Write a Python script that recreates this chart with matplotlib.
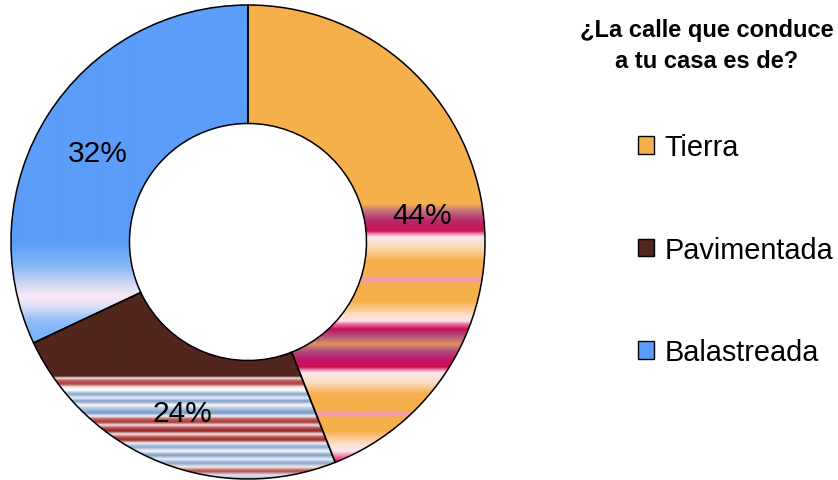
import matplotlib
matplotlib.use("Agg")
import numpy as np
import matplotlib.pyplot as plt
from matplotlib.patches import Patch, Wedge
from matplotlib.colors import to_rgb

categories = ["Tierra", "Pavimentada", "Balastreada"]
values = [44, 24, 32]
colors = ["#F6B04B", "#52261D", "#5B9DF8"]
title = "¿La calle que conduce\na tu casa es de?"

# Rendering texture (horizontal colour bands) of each slice, by pixel row
bands = {
    "Tierra": [(0, '#F6B04B'), (205, '#F6B04B'), (212, '#C07080'), (222, '#B8286A'),
               (232, '#D0105A'), (235, '#F090B0'), (238, '#FCE8EC'), (248, '#FBD8B8'),
               (262, '#F6B04B'), (276, '#F6B04B'), (280, '#F498C0'), (285, '#F6B04B'),
               (302, '#F6B04B'), (315, '#FCDDC0'), (322, '#FCE4EC'), (325, '#F070A0'),
               (330, '#C8105A'), (337, '#B05080'), (345, '#E09060'), (352, '#B05080'),
               (360, '#C0186A'), (368, '#D01058'), (371, '#F090B0'), (374, '#FDE8EE'),
               (385, '#FBD8B8'), (395, '#F6B04B'), (411, '#F6B04B'), (415, '#F498C0'),
               (419, '#F6B04B'), (432, '#F6B04B'), (445, '#FCE0D0'), (452, '#FCE8EC'),
               (458, '#F070A0'), (463, '#D01058'), (481, '#D01058')],
    "Pavimentada": [(0, '#52261D'), (377, '#52261D'), (379, '#F0E0E0'), (382, '#C05050'),
                    (385, '#B04848'), (388, '#F4ECEC'), (391, '#FFFFFF'), (395, '#8AA8CC'),
                    (399, '#E8F0F8'), (402, '#7C9CC4'), (406, '#F8FAFC'), (410, '#A8C0DC'),
                    (414, '#7C9CC4'), (417, '#F0F4F8'), (420, '#C06060'), (423, '#A83838'),
                    (426, '#F0E0E0'), (429, '#B84848'), (432, '#8C2828'), (435, '#F4E8E8'),
                    (438, '#B85050'), (441, '#A03030'), (444, '#F0F0F4'), (448, '#8AA8CC'),
                    (452, '#F8FAFC'), (456, '#7C9CC4'), (460, '#E8F0F8'), (464, '#8AA8CC'),
                    (468, '#F4E8E8'), (472, '#B04848'), (476, '#E0E8F0'), (481, '#8AA8CC')],
    "Balastreada": [(0, '#5B9DF8'), (243, '#5B9DF8'), (267, '#86B8F8'), (285, '#D0D8F0'),
                    (298, '#FCE8F8'), (308, '#D8E0F4'), (320, '#98C0F8'), (333, '#7CB4FA'),
                    (481, '#7CB4FA')],
}

plt.rcParams['font.family'] = ['Liberation Sans', 'DejaVu Sans']

W, H = 838, 481
fig = plt.figure(figsize=(W/100, H/100), dpi=100)
cx, cy, R = 248, 243, 237
half = 242
ax = fig.add_axes([(cx-half)/W, (H-cy-half)/H, 2*half/W, 2*half/H])
lim = half / R

wedges, texts, autotexts = ax.pie(
    values, colors=colors, startangle=90, counterclock=False, radius=1.0,
    wedgeprops=dict(width=0.5, edgecolor='none', linewidth=0),
    autopct=lambda p: f"{p:.0f}%", pctdistance=0.75,
    textprops=dict(fontsize=21.5, color='black'))

rows = np.arange(H) + 0.5
for cat, w in zip(categories, wedges):
    stops = bands[cat]
    ys = np.array([s[0] for s in stops], float)
    cols = np.array([to_rgb(s[1]) for s in stops])
    img = np.stack([np.interp(rows, ys, cols[:, k]) for k in range(3)], axis=-1)
    img = img[:, None, :]
    im = ax.imshow(img, extent=(-1.05, 1.05, (cy - H)/R, cy/R), origin='upper',
                   aspect='auto', interpolation='bilinear', zorder=2)
    im.set_clip_path(w)
    ax.add_patch(Wedge(w.center, w.r, w.theta1, w.theta2, width=w.width,
                       fill=False, edgecolor='black', linewidth=1.1, zorder=2.5))
for t in autotexts:
    x, y = t.get_position()
    t.set_position((x, y - 6/R))
    t.set_zorder(4)

ax.set_xlim(-lim, lim)
ax.set_ylim(-lim, lim)
ax.set_aspect('equal')
ax.axis('off')

fig.text(707/W, 1-46/H, title, ha='center', va='center', fontsize=17,
         fontweight='bold', linespacing=1.5)

handles = [Patch(facecolor=c, edgecolor='black', linewidth=1) for c in colors]
leg = fig.legend(handles, categories, loc='upper left',
                 bbox_to_anchor=(638/W, 1-134/H), frameon=False,
                 fontsize=20.8, labelspacing=2.58, handlelength=0.56,
                 handleheight=0.56, handletextpad=0.36, borderpad=0,
                 borderaxespad=0)

fig.savefig("out.png", dpi=100)
